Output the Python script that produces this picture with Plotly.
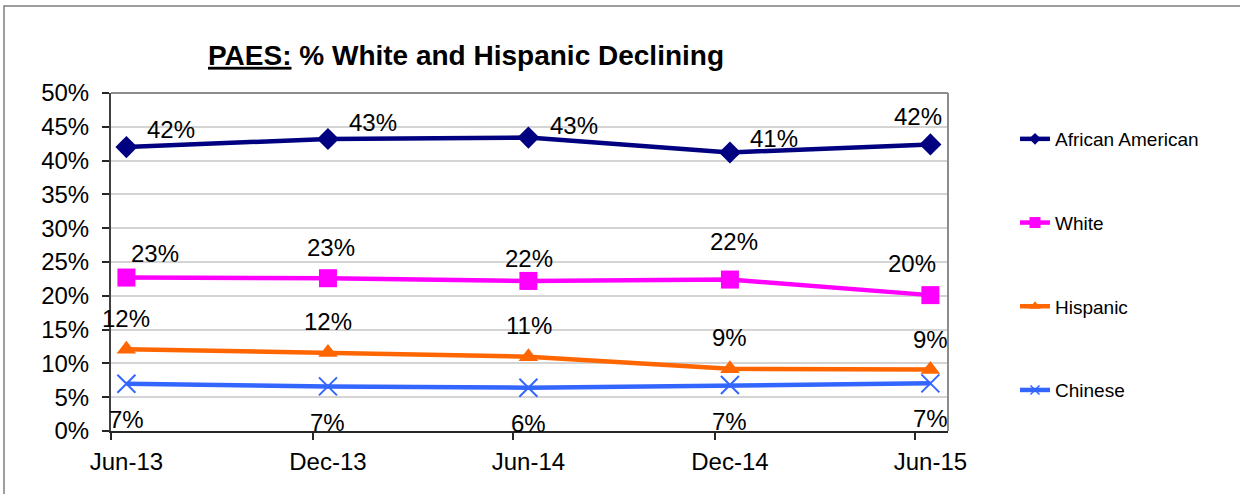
import plotly.graph_objects as go

# ---- data ----
dates = ["2013-06-15", "2013-12-15", "2014-06-15", "2014-12-15", "2015-06-15"]
date_labels = ["Jun-13", "Dec-13", "Jun-14", "Dec-14", "Jun-15"]
period_starts = ["2013-06-01", "2013-12-01", "2014-06-01", "2014-12-01", "2015-06-01"]

african_american = [42.0, 43.2, 43.4, 41.2, 42.4]
white = [22.7, 22.6, 22.2, 22.4, 20.1]
hispanic = [12.1, 11.6, 11.0, 9.2, 9.1]
chinese = [7.0, 6.6, 6.4, 6.8, 7.05]

series_names = ["African American", "White", "Hispanic", "Chinese"]
series_values = [african_american, white, hispanic, chinese]

y_ticks = [0, 5, 10, 15, 20, 25, 30, 35, 40, 45, 50]

# ---- styles ----
colors = ["#000080", "#FF00FF", "#FF6600", "#3366FF"]
symbols = ["diamond", "square", "triangle-up", "x-thin"]
msizes = [17, 18, 17, 18]
legend_msizes = [9, 11, 10, 9]
# label offsets in px (dx, dy up-positive) per series per point
label_offsets = [
    [(45, 18), (45, 16), (46, 12), (44, 14), (-12, 28)],
    [(29, 24), (3, 31), (1, 22), (4, 38), (-18, 32)],
    [(0, 31), (0, 31), (1, 31), (0, 31), (0, 30)],
    [(0, -36), (0, -36), (0, -36), (0, -36), (0, -35)],
]

FONT = "Liberation Sans, Arial, sans-serif"

fig = go.Figure()
for name, vals, c, s, ms in zip(series_names, series_values, colors, symbols, msizes):
    marker = dict(symbol=s, size=ms, color=c)
    if s == "x-thin":
        marker["line"] = dict(color=c, width=2)
    fig.add_trace(go.Scatter(
        x=dates, y=[v / 100 for v in vals], name=name, mode="lines+markers",
        line=dict(color=c, width=4.5), marker=marker, legendgroup=name,
        showlegend=False,
    ))
# legend entries (smaller markers, as in the reference legend)
for name, c, s, ms in zip(series_names, colors, symbols, legend_msizes):
    marker = dict(symbol=s, size=ms, color=c)
    if s == "x-thin":
        marker["line"] = dict(color=c, width=1.5)
    fig.add_trace(go.Scatter(
        x=[None], y=[None], name=name, mode="lines+markers",
        line=dict(color=c, width=4.5), marker=marker, legendgroup=name,
        showlegend=True,
    ))

annotations = []
for vals, offs in zip(series_values, label_offsets):
    for d, v, (dx, dy) in zip(dates, vals, offs):
        annotations.append(dict(
            x=d, y=v / 100, xref="x", yref="y", text=f"{int(v + 0.5)}%",
            showarrow=False, xshift=dx, yshift=dy, xanchor="center", yanchor="middle",
            font=dict(family=FONT, size=24, color="#000000"),
        ))

L, R, T, B = 111, 292, 93, 63
W, H = 1240, 494
pw, ph = W - L - R, H - T - B

def px_x(p):
    return (p - L) / pw

def px_y(p):
    return (H - B - p) / ph

shapes = [
    # outer chart border
    dict(type="rect", xref="paper", yref="paper", x0=px_x(4), x1=px_x(1246),
         y0=px_y(500), y1=px_y(6), line=dict(color="#7f7f7f", width=1.5)),
    # plot area top and right border
    dict(type="line", xref="paper", yref="paper", x0=0, x1=1, y0=1, y1=1,
         line=dict(color="#8c8c8c", width=2)),
    dict(type="line", xref="paper", yref="paper", x0=1, x1=1, y0=0, y1=1,
         line=dict(color="#8c8c8c", width=2)),
]

fig.update_layout(
    width=W, height=H,
    margin=dict(l=L, r=R, t=T, b=B),
    paper_bgcolor="white", plot_bgcolor="white",
    font=dict(family=FONT, color="#000000"),
    title=dict(
        text="<b><u>PAES:</u> % White and Hispanic Declining</b>",
        xref="paper", x=px_x(466), xanchor="center",
        yref="container", y=1 - 55 / H, yanchor="middle",
        font=dict(family=FONT, size=28, color="#000000"),
    ),
    showlegend=True,
    legend=dict(
        x=px_x(1015), xanchor="left", y=px_y(120), yanchor="top",
        font=dict(family=FONT, size=19, color="#000000"),
        tracegroupgap=56, bgcolor="rgba(0,0,0,0)",
    ),
    annotations=annotations,
    shapes=shapes,
)

fig.update_xaxes(
    type="date", range=["2013-06-01", "2015-07-01"],
    tickmode="array", tickvals=dates, ticktext=date_labels, ticks="",
    tickfont=dict(family=FONT, size=24), ticklabelstandoff=8,
    showgrid=False, showline=True, linecolor="#262626", linewidth=2,
    minor=dict(tickmode="array", tickvals=period_starts, ticks="outside",
               ticklen=7, tickwidth=1.5, tickcolor="#262626", showgrid=False),
    zeroline=False, fixedrange=True,
)
fig.update_yaxes(
    range=[0, 0.5], tickmode="array", tickvals=[t / 100 for t in y_ticks],
    ticktext=[f"{t}%" for t in y_ticks], ticks="outside", ticklen=7,
    tickwidth=1.5, tickcolor="#262626",
    tickfont=dict(family=FONT, size=24), ticklabelstandoff=8,
    showgrid=True, gridcolor="#d4d4d4", gridwidth=2,
    showline=True, linecolor="#404040", linewidth=2, zeroline=False, fixedrange=True,
)

fig.write_html(
    "out.html",
    config={"displayModeBar": False},
    post_script="document.body.style.margin='0';document.body.style.overflow='hidden';",
)
